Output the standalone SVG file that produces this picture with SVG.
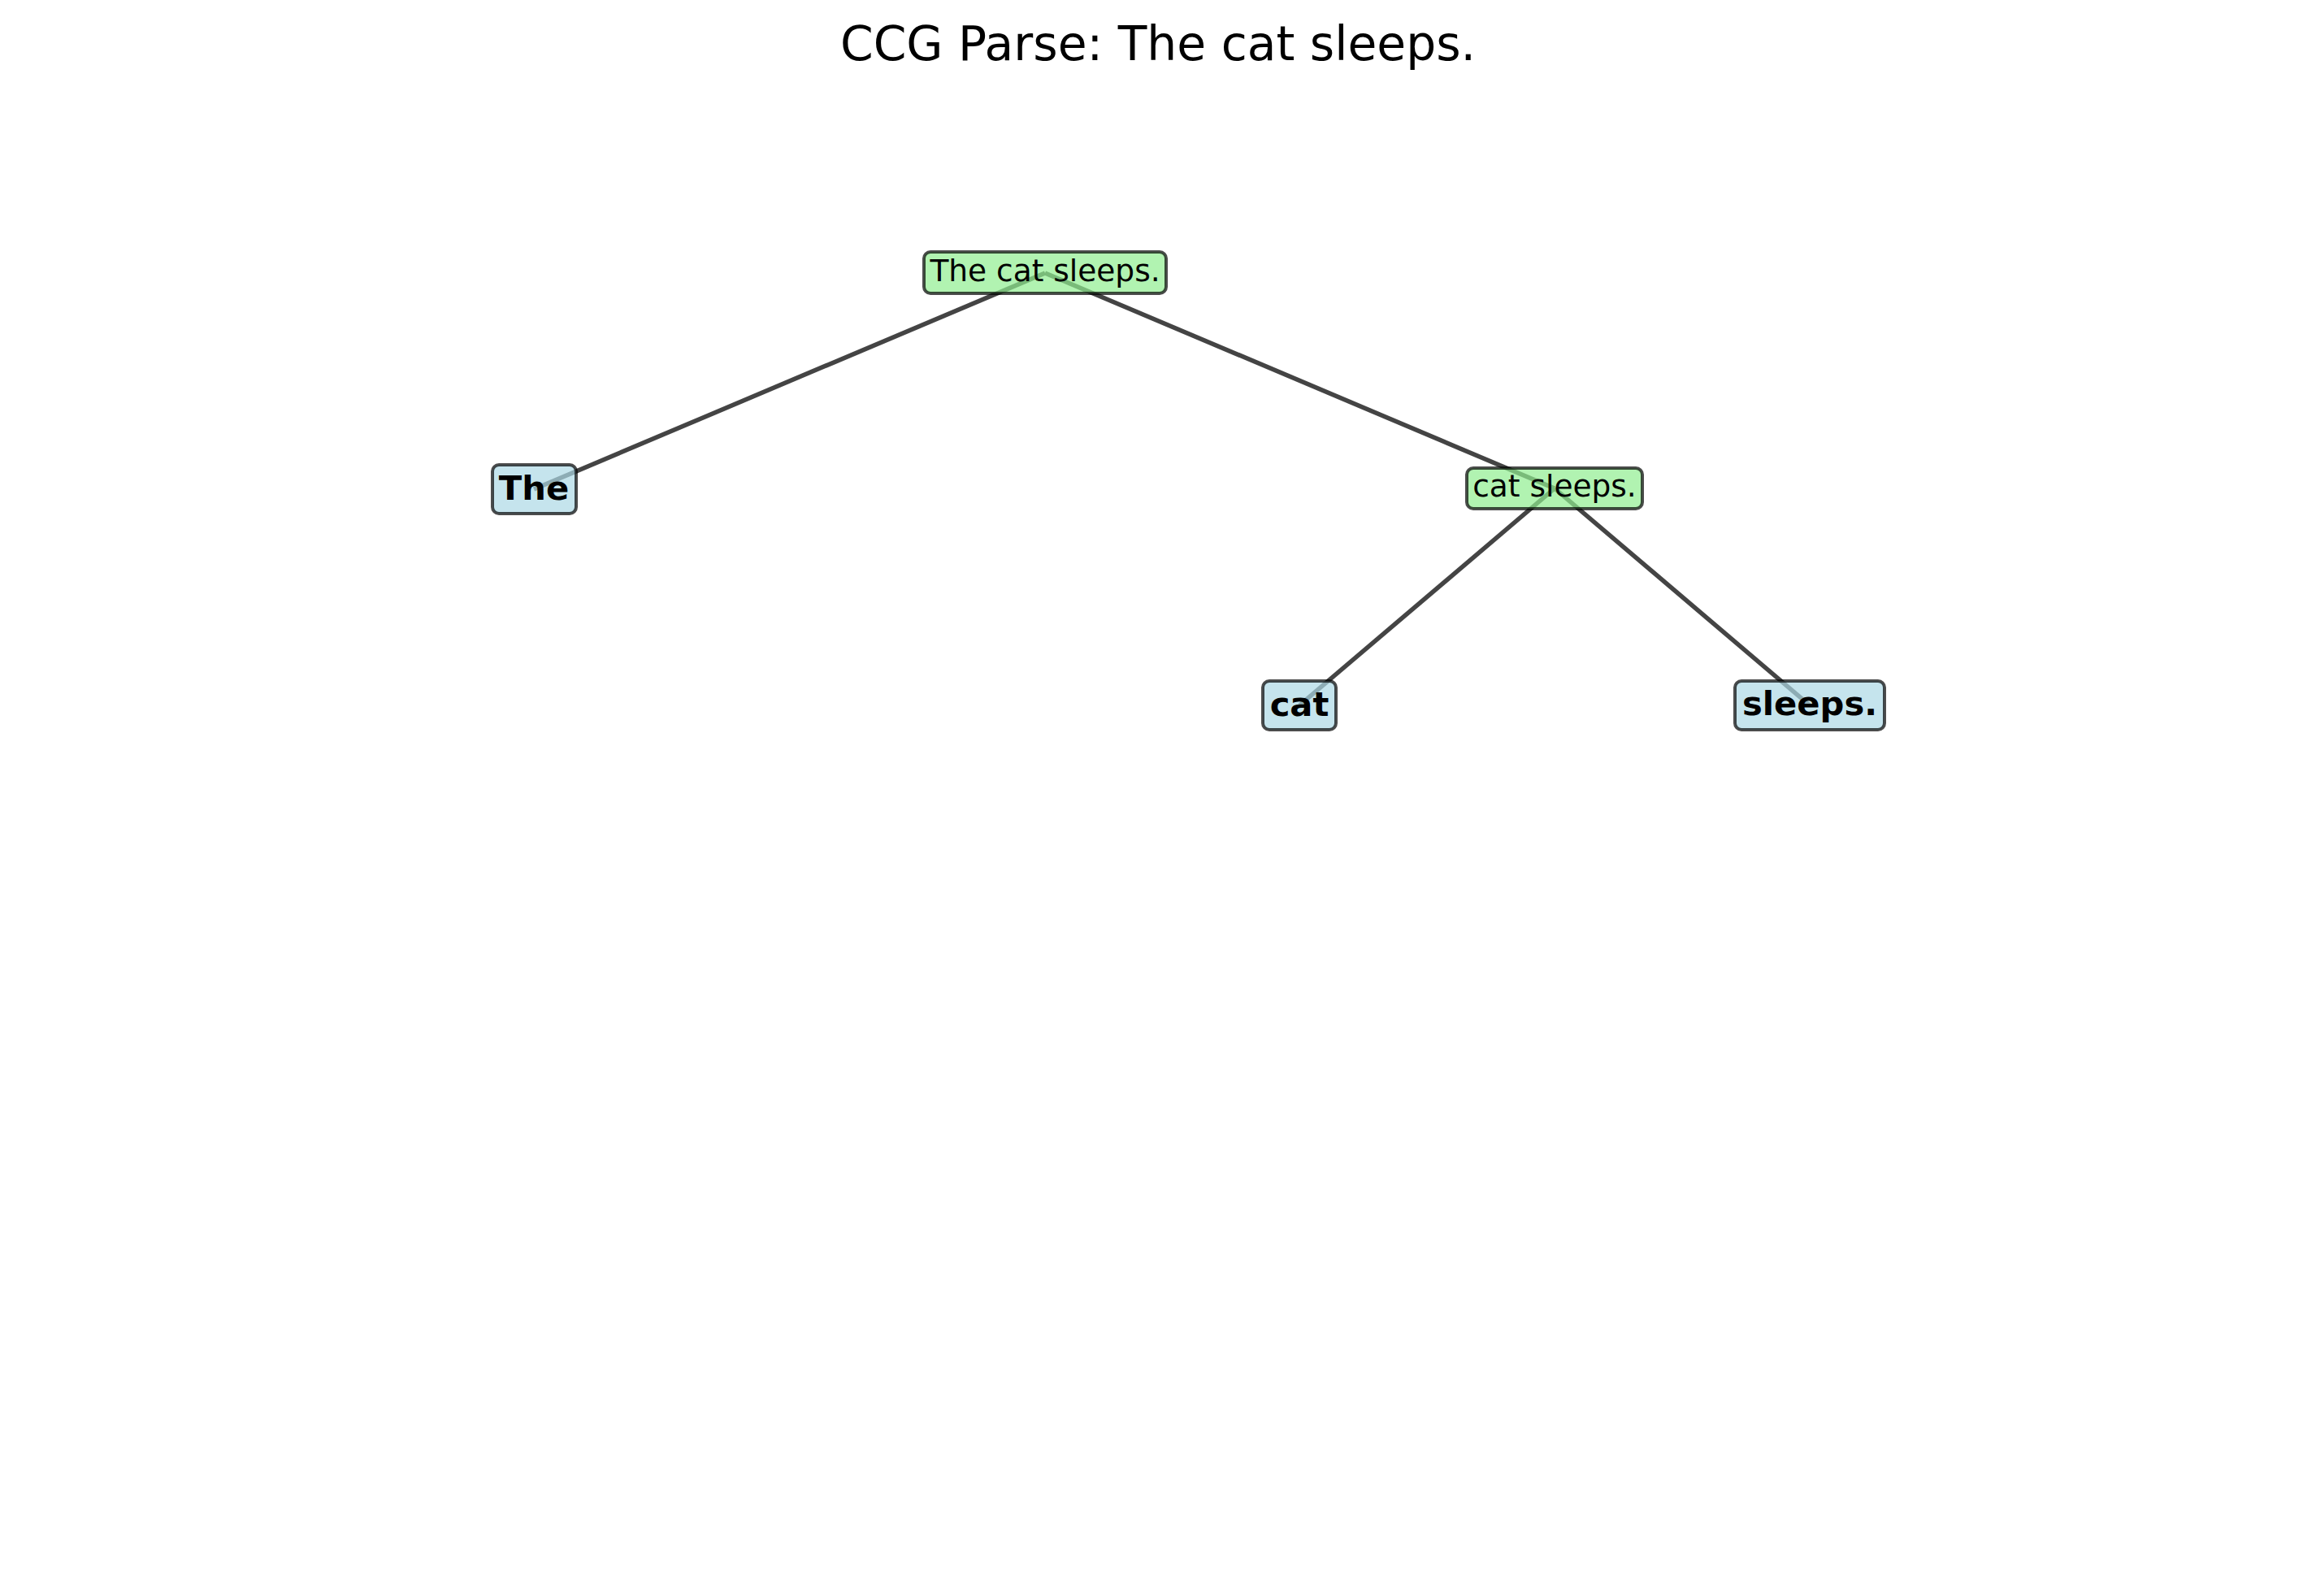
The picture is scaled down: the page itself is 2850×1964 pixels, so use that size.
<svg xmlns="http://www.w3.org/2000/svg" width="2850" height="1964" viewBox="0 0 2850 1964">
<style>
.bg{fill:#ffffff}
.edge{stroke:#444444;stroke-width:5.5;stroke-linecap:butt;fill:none}
.phrase rect{fill:#90EE90;fill-opacity:0.7;stroke:#000000;stroke-opacity:0.7;stroke-width:4}
.word rect{fill:#ADD8E6;fill-opacity:0.7;stroke:#000000;stroke-opacity:0.7;stroke-width:4}
.phrase text{font-family:"DejaVu Sans",sans-serif;font-size:37.5px;fill:#000;text-anchor:middle}
.word text{font-family:"DejaVu Sans",sans-serif;font-size:41.67px;font-weight:bold;fill:#000;text-anchor:middle}
.title{font-family:"DejaVu Sans",sans-serif;font-size:58.3px;fill:#000;text-anchor:middle}
</style>
<rect class="bg" x="0" y="0" width="2850" height="1964"/>
<text class="title" x="1425" y="74">CCG Parse: The cat sleeps.</text>
<g id="connectors">
<line class="edge" x1="1286" y1="336" x2="657" y2="602"/>
<line class="edge" x1="1286" y1="336" x2="1913" y2="601"/>
<line class="edge" x1="1913" y1="601" x2="1599" y2="868"/>
<line class="edge" x1="1913" y1="601" x2="2227" y2="868"/>
</g>
<g id="node-root" class="phrase">
<rect x="1137" y="310" width="298" height="51" rx="8"/>
<text x="1286" y="346">The cat sleeps.</text>
</g>
<g id="node-catsleeps" class="phrase">
<rect x="1805" y="576" width="216" height="50" rx="8"/>
<text x="1913" y="611">cat sleeps.</text>
</g>
<g id="node-the" class="word">
<rect x="606" y="572" width="103" height="60" rx="8"/>
<text x="657" y="615">The</text>
</g>
<g id="node-cat" class="word">
<rect x="1554" y="838" width="90" height="60" rx="8"/>
<text x="1599" y="881">cat</text>
</g>
<g id="node-sleeps" class="word">
<rect x="2135" y="838" width="184" height="60" rx="8"/>
<text x="2227" y="880">sleeps.</text>
</g>
</svg>
